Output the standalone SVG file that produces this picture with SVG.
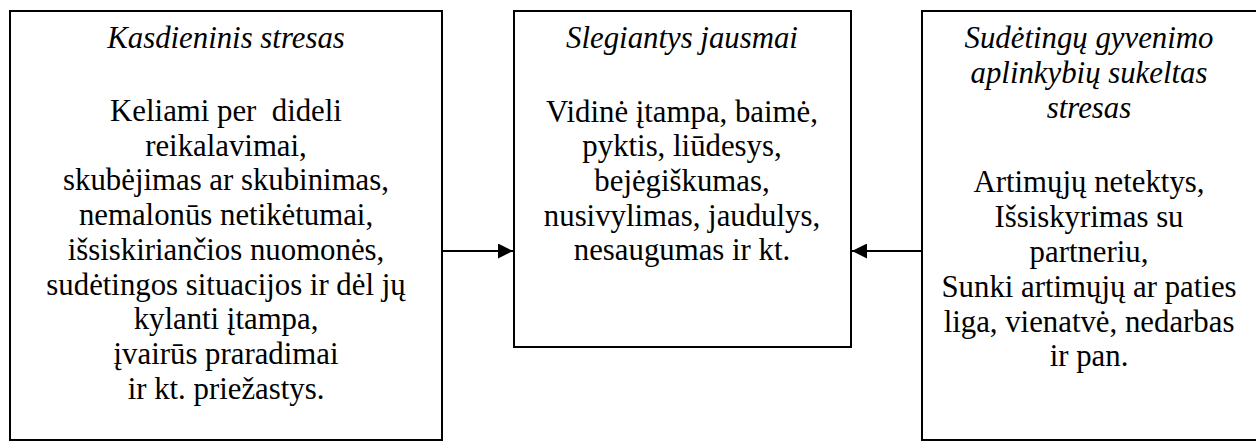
<svg xmlns="http://www.w3.org/2000/svg" width="1256" height="443" viewBox="0 0 1256 443">
<style>
.box{fill:#fff;stroke:#000;stroke-width:2}
.c{stroke:#000;stroke-width:2;fill:none}
</style>
<defs>
<marker id="ah" viewBox="0 0 10 10" refX="10" refY="5" markerWidth="15" markerHeight="15" markerUnits="userSpaceOnUse" orient="auto">
<path d="M0,0 L10,5 L0,10 Z" fill="#000"/>
</marker>
</defs>
<rect width="1256" height="443" fill="#fff"/>
<g font-family="Liberation Serif, Times New Roman, DejaVu Serif, serif" font-size="30.8" text-anchor="middle" fill="#000">
<g id="kasdieninis">
<rect class="box" x="10" y="11" width="432" height="429"/>
<text font-style="italic" x="226" y="48">Kasdieninis stresas</text>
<text x="226" y="121" xml:space="preserve">Keliami per  dideli</text>
<text x="226" y="155.7">reikalavimai,</text>
<text x="226" y="190.4">skubėjimas ar skubinimas,</text>
<text x="226" y="225.1">nemalonūs netikėtumai,</text>
<text x="226" y="259.8">išsiskiriančios nuomonės,</text>
<text x="226" y="294.5">sudėtingos situacijos ir dėl jų</text>
<text x="226" y="329.2">kylanti įtampa,</text>
<text x="226" y="363.9">įvairūs praradimai</text>
<text x="226" y="398.6">ir kt. priežastys.</text>
</g>
<g id="slegiantys">
<rect class="box" x="514" y="11" width="337" height="336"/>
<text font-style="italic" x="682" y="48">Slegiantys jausmai</text>
<text x="682" y="121.5">Vidinė įtampa, baimė,</text>
<text x="682" y="156.2">pyktis, liūdesys,</text>
<text x="682" y="190.9">bejėgiškumas,</text>
<text x="682" y="225.6">nusivylimas, jaudulys,</text>
<text x="682" y="260.3">nesaugumas ir kt.</text>
</g>
<g id="sudetingu">
<rect class="box" x="922" y="11" width="340" height="429"/>
<text font-style="italic" x="1089" y="48">Sudėtingų gyvenimo</text>
<text font-style="italic" x="1089" y="83">aplinkybių sukeltas</text>
<text font-style="italic" x="1089" y="118">stresas</text>
<text x="1089" y="192">Artimųjų netektys,</text>
<text x="1089" y="227">Išsiskyrimas su</text>
<text x="1089" y="262">partneriu,</text>
<text x="1089" y="297">Sunki artimųjų ar paties</text>
<text x="1089" y="331.5">liga, vienatvė, nedarbas</text>
<text x="1089" y="366">ir pan.</text>
</g>
</g>
<g id="connectors">
<line class="c" x1="442" y1="251" x2="513" y2="251" marker-end="url(#ah)"/>
<line class="c" x1="922" y1="251" x2="852" y2="251" marker-end="url(#ah)"/>
</g>
</svg>
